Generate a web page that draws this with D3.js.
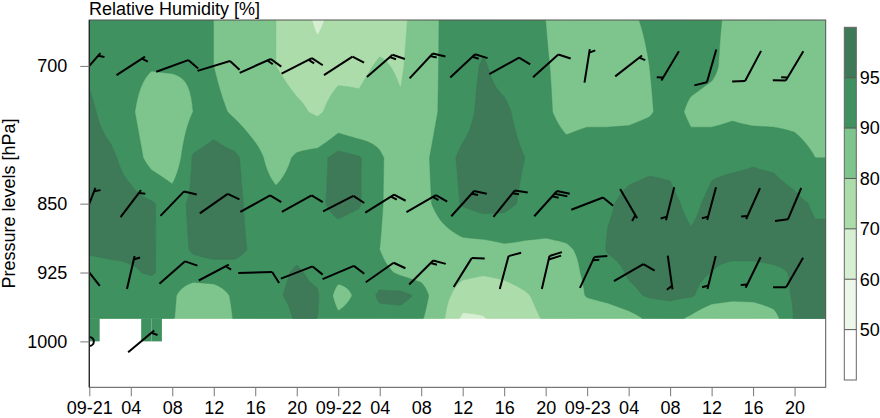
<!DOCTYPE html>
<html><head><meta charset="utf-8">
<script src="https://cdn.jsdelivr.net/npm/d3@7"></script>
<style>
body{margin:0;background:#fff}
svg{display:block}
text{font-family:"Liberation Sans",Arial,Helvetica,sans-serif;fill:#000}
</style>
</head><body>
<svg id="chart" width="880" height="418"></svg>
<script>
// ---------------- DATA ----------------
const levels = [650, 700, 750, 800, 850, 900, 925, 950, 975];
const times = [0,2,4,6,8,10,12,14,16,18,20,22,24,26,28,30,32,34,36,38,40,42,44,46,48,50,52,54,56,58,60,62,64,66,68,70];
const rh650 = [92,92,92,92,91,91,90,86,84,80,77,67.5,75,74,76,78,84,91,93,93,93,92,90,87,86,87,89,91,93,92,91,89,87,86,86,86];
const rh700 = [94,92,92,90.5,91,91,90,86,84,80,76,75,77,78,81,79,85,91,93,95.5,93,92,90.5,88,86,86,87,90,92,92,91,88,86,85,85,85];
const rh750 = [96,93,91,86,85,90,92,89,86,85,82,78.5,84,82,85,81,86,91,93,96.5,96,93,91,88,88.5,88.5,88.5,89.5,92,89,88,89,88,88,88,87];
const rh800 = [97,96,93,88,86,95.5,97,96,92,87,91,93,97,95.5,91,86,88,93,96,97,97,95,93,92,93,93,93.5,94,94,92,94,94,94.5,94,92.5,90];
const rh850 = [97,97,96.5,95.5,93,96,97,96.5,93,92,93,94,96.5,95.5,91,85,88,92,95.5,97,96.5,94,93,93,93,94.5,96,96.5,96,94,96,97,97,97,96,94.5];
const rh900 = [96,96.5,96,95.5,93,95.5,96.5,96.5,94,93,94,93,92,91,90,85,86,87,88,88,89,89,89,89.5,91,95.5,96.5,97,97,96,96.5,97,97,97,96.5,96];
const rh925 = [92,93,94.5,95.5,93,93,93,93,93,94,95.5,94,92,91,92,89,87,84,82,81,82,84,86,88,91,93,95.5,96.5,97,96,95,93,93,94,95.5,96.5];
const rh950 = [92,93,93,92,91,86,87,91,93,94.5,96,95.5,88,91,96,96.5,94,83,76,74,76,79,83,86,90.5,92,94,95.5,96,95.5,93,92,92,93,95.5,96.5];
const rh975 = [92,92,92,91,90.5,86,85,90.5,92,93,95.5,95,91,92,93,93,91,82,68,69.5,74,77,81,84,85,86,88,91,92,89,85,84,85,88,95.5,96];
// 1000 hPa: only a few hours have data
const times1000 = [0, 1, 5, 6, 7];
const rh1000 = [92, 92, 93, 93, 92];

const thresholds = [50, 60, 70, 80, 90, 95];
const bandColors = ["#ffffff", "#edf7ea", "#d6eed2", "#acdcaa", "#7ec58d", "#409160", "#3e7a58"];

const xTicks = [0,4,8,12,16,20,24,28,32,36,40,44,48,52,56,60,64,68];
const xTickLabels = ["09-21","04","08","12","16","20","09-22","04","08","12","16","20","09-23","04","08","12","16","20"];
const yTicks = [700, 850, 925, 1000];

// wind barbs (direction wind comes from, deg; speed, kt)
const windTimes = [0,4,8,12,16,20,24,28,32,36,40,44,48,52,56,60,64,68];
const dir700 = [41,57,70,73,66,63,57,49,43,47,61,48,9,52,211,196,208,211];
const spd700 = [5,5,10,10,15,15,10,15,15,15,10,10,5,3,5,10,10,15];
const dir850 = [21,37,44,55,61,61,63,58,60,42,39,42,69,150,194,195,204,203];
const spd850 = [5,5,10,10,10,10,10,15,15,15,15,25,10,5,5,5,5,10];
const dir925 = [322,13,49,62,88,69,67,55,45,32,15,13,25,60,172,194,206,210];
const spd925 = [5,5,10,5,10,10,10,10,15,10,10,20,15,10,5,5,5,10];
const windTimes1000 = [0, 5];
const dir1000 = [0, 50];
const spd1000 = [0, 3];

// ---------------- LAYOUT ----------------
const svg = d3.select("#chart");
const x = d3.scaleLinear().domain([0, 71]).range([89.3, 825.7]);
const y = d3.scaleLinear().domain([650, 1050]).range([20, 387.3]);
const color = d3.scaleThreshold().domain(thresholds).range(bandColors);

svg.append("defs").append("clipPath").attr("id", "plotclip")
  .append("rect").attr("x", x(0)).attr("y", y(650))
  .attr("width", x(71) - x(0)).attr("height", y(1050) - y(650));

// ---------------- CONTOURS ----------------
const rows = [rh650, rh700, rh750, rh800, rh850, rh900, rh925, rh950, rh975];
function locate(arr, v) {
  if (v <= arr[0]) return [0, 0, 0];
  if (v >= arr[arr.length - 1]) return [arr.length - 1, arr.length - 1, 0];
  const i = d3.bisectRight(arr, v) - 1;
  return [i, i + 1, (v - arr[i]) / (arr[i + 1] - arr[i])];
}
const X0 = x(0), X1 = x(71), Y0 = y(levels[0]), Y1 = y(levels[levels.length - 1]);
const nx = Math.round(X1 - X0), ny = Math.round(Y1 - Y0);
const sx = (X1 - X0) / nx, sy = (Y1 - Y0) / ny;
const grid = new Float64Array(nx * ny);
const colLoc = d3.range(nx).map(i => locate(times, x.invert(X0 + (i + 0.5) * sx)));
for (let j = 0; j < ny; j++) {
  const [r0, r1, fr] = locate(levels, y.invert(Y0 + (j + 0.5) * sy));
  const A = rows[r0], B = rows[r1];
  for (let i = 0; i < nx; i++) {
    const [c0, c1, fc] = colLoc[i];
    const a = A[c0] * (1 - fc) + A[c1] * fc;
    const b = B[c0] * (1 - fc) + B[c1] * fc;
    grid[j * nx + i] = a * (1 - fr) + b * fr;
  }
}
const contours = d3.contours().size([nx, ny]).thresholds(thresholds)(grid);
const proj = d3.geoTransform({ point(a, b) { this.stream.point(X0 + a * sx, Y0 + b * sy); } });
const path = d3.geoPath(proj);
const gFill = svg.append("g").attr("clip-path", "url(#plotclip)");
gFill.selectAll("path.band").data(contours).join("path")
  .attr("class", "band")
  .attr("d", path)
  .attr("fill", (d, k) => bandColors[k + 1])
  .attr("stroke", (d, k) => bandColors[k + 1]).attr("stroke-width", 0.4);

// 1000 hPa cells where consecutive hours exist
const cells1000 = [];
for (let i = 0; i < times1000.length - 1; i++) {
  if (times1000[i + 1] - times1000[i] === 1) cells1000.push({ t0: times1000[i], t1: times1000[i + 1], v: (rh1000[i] + rh1000[i + 1]) / 2 });
}
gFill.selectAll("rect.c1000").data(cells1000).join("rect")
  .attr("x", d => x(d.t0)).attr("width", d => x(d.t1) - x(d.t0))
  .attr("y", y(975)).attr("height", y(1000) - y(975))
  .attr("fill", d => color(d.v));

// ---------------- WIND BARBS ----------------
const gBarb = svg.append("g").attr("clip-path", "url(#plotclip)")
  .attr("stroke", "#000").attr("stroke-width", 2).attr("fill", "none");
const STAFF = 34, FULL = 13, HALF = 6.5, GAP = 3.6, ANG = 60 * Math.PI / 180;
function barb(cx, cy, dir, spd) {
  if (spd < 2.5) {
    gBarb.append("circle").attr("cx", cx).attr("cy", cy).attr("r", 4.5);
    return;
  }
  const r = dir * Math.PI / 180;
  const ux = Math.sin(r), uy = -Math.cos(r);
  const tx = cx + ux * STAFF / 2, ty = cy + uy * STAFF / 2;
  gBarb.append("line").attr("x1", cx - ux * STAFF / 2).attr("y1", cy - uy * STAFF / 2)
    .attr("x2", tx).attr("y2", ty);
  const fx = ux * Math.cos(ANG) - uy * Math.sin(ANG);
  const fy = ux * Math.sin(ANG) + uy * Math.cos(ANG);
  const s = Math.round(spd / 5) * 5;
  const nFull = Math.floor(s / 10), nHalf = (s % 10) >= 5 ? 1 : 0;
  let k = 0;
  for (let f = 0; f < nFull; f++, k++) {
    const bx = tx - ux * GAP * k, by = ty - uy * GAP * k;
    gBarb.append("line").attr("x1", bx).attr("y1", by).attr("x2", bx + fx * FULL).attr("y2", by + fy * FULL);
  }
  if (nHalf) {
    if (nFull === 0) k = 1;
    const bx = tx - ux * GAP * k, by = ty - uy * GAP * k;
    gBarb.append("line").attr("x1", bx).attr("y1", by).attr("x2", bx + fx * HALF).attr("y2", by + fy * HALF);
  }
}
[[700, dir700, spd700], [850, dir850, spd850], [925, dir925, spd925]].forEach(([p, D, S]) => {
  windTimes.forEach((t, i) => barb(x(t), y(p), D[i], S[i]));
});
windTimes1000.forEach((t, i) => barb(x(t), y(1000), dir1000[i], spd1000[i]));

// ---------------- FRAME & AXES ----------------
svg.append("rect").attr("x", x(0)).attr("y", y(650)).attr("width", x(71) - x(0)).attr("height", y(1050) - y(650))
  .attr("fill", "none").attr("stroke", "#555").attr("stroke-width", 1);
svg.append("line").attr("x1", x(0)).attr("x2", x(0)).attr("y1", y(650)).attr("y2", y(1050))
  .attr("stroke", "#222").attr("stroke-width", 1.2);

const yAxis = svg.append("g").attr("transform", `translate(${x(0)},0)`)
  .call(d3.axisLeft(y).tickValues(yTicks).tickSize(9).tickPadding(13).tickFormat(d3.format("d")));
yAxis.select(".domain").remove();
yAxis.selectAll(".tick line").attr("stroke", "#777");
yAxis.selectAll(".tick text").attr("font-size", 18).attr("font-family", "Liberation Sans, Arial, sans-serif");

const xAxis = svg.append("g").attr("transform", `translate(0,${y(1050)})`)
  .call(d3.axisBottom(x).tickValues(xTicks).tickSize(9).tickPadding(4).tickFormat((d, i) => xTickLabels[i]));
xAxis.select(".domain").remove();
xAxis.selectAll(".tick line").attr("stroke", "#777");
xAxis.selectAll(".tick text").attr("font-size", 18).attr("font-family", "Liberation Sans, Arial, sans-serif")
  .attr("dy", null).attr("y", 27);

svg.append("text").attr("x", 89).attr("y", 15).attr("font-size", 18).text("Relative Humidity [%]");
svg.append("text").attr("transform", "translate(15,203.5) rotate(-90)").attr("text-anchor", "middle")
  .attr("font-size", 18).text("Pressure levels [hPa]");

// ---------------- COLORBAR ----------------
const cb = { x: 844.3, w: 12, top: 27.3, bottom: 380 };
const cbScale = d3.scaleLinear().domain([0, bandColors.length]).range([cb.bottom, cb.top]);
const gcb = svg.append("g");
gcb.selectAll("rect").data(bandColors).join("rect")
  .attr("x", cb.x).attr("width", cb.w)
  .attr("y", (d, i) => cbScale(i + 1)).attr("height", (d, i) => cbScale(i) - cbScale(i + 1))
  .attr("fill", d => d);
gcb.selectAll("line").data(thresholds).join("line")
  .attr("x1", cb.x).attr("x2", cb.x + cb.w)
  .attr("y1", (d, i) => cbScale(i + 1)).attr("y2", (d, i) => cbScale(i + 1))
  .attr("stroke", "#555").attr("stroke-width", 1);
gcb.append("rect").attr("x", cb.x).attr("y", cb.top).attr("width", cb.w).attr("height", cb.bottom - cb.top)
  .attr("fill", "none").attr("stroke", "#666");
gcb.selectAll("text").data(thresholds).join("text")
  .attr("x", cb.x + cb.w + 3.5).attr("y", (d, i) => cbScale(i + 1)).attr("dy", "0.35em")
  .attr("font-size", 18).text(d => d);
</script>
</body></html>
